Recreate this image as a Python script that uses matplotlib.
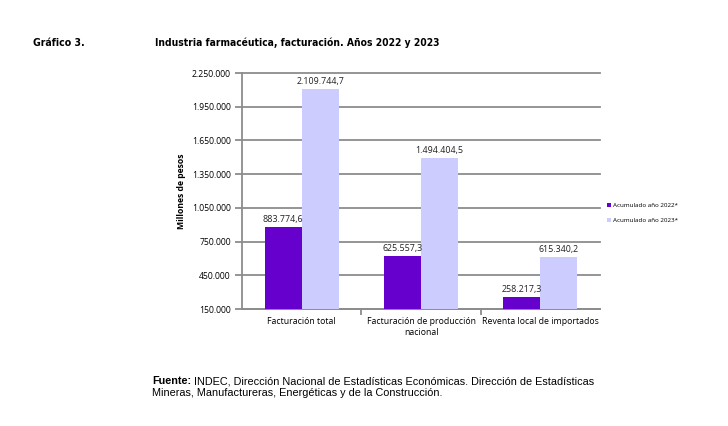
import matplotlib.pyplot as plt
import numpy as np

categories = ["Facturación total", "Facturación de producción\nnacional", "Reventa local de importados"]
values_2022 = [883774.6, 625557.3, 258217.3]
values_2023 = [2109744.7, 1494404.5, 615340.2]
series_names = ["Acumulado año 2022*", "Acumulado año 2023*"]
yticks = [150000, 450000, 750000, 1050000, 1350000, 1650000, 1950000, 2250000]


def fmt_es(v, dec=1):
    s = f"{v:,.{dec}f}"
    return s.replace(",", "X").replace(".", ",").replace("X", ".")


tick_font = ["Open Sans", "DejaVu Sans"]
grey = "#8c8c8c"

fig = plt.figure(figsize=(7.28, 4.26), dpi=100)
ax = fig.add_axes([0.3324, 0.2746, 0.4918, 0.554])

x = np.arange(len(categories))
w = 0.31
b1 = ax.bar(x - w / 2, values_2022, w, color="#6600CC", label=series_names[0], zorder=3)
b2 = ax.bar(x + w / 2, values_2023, w, color="#CCCCFF", label=series_names[1], zorder=3)

for bars, vals in [(b1, values_2022), (b2, values_2023)]:
    for r, v in zip(bars, vals):
        ax.text(r.get_x() + r.get_width() / 2, v + 25000, fmt_es(v), ha="center", va="bottom",
                fontsize=6.4, family=tick_font, color="#222222")

ax.set_xlim(-0.5, 2.5)
ax.set_ylim(150000, 2250000)
ax.set_yticks(yticks)
ax.set_yticklabels([fmt_es(t, 0) for t in yticks], fontsize=6.2, family=tick_font)
ax.yaxis.grid(True, color=grey, linewidth=1.3, zorder=0)
for gl in ax.get_ygridlines():
    gl.set_clip_on(False)
ax.tick_params(axis="y", length=5, color=grey, width=1.3, pad=3)

ax.set_xticks(x)
ax.set_xticklabels(categories, fontsize=6.3, family=tick_font)
ax.tick_params(axis="x", length=0, pad=6)
ax.set_xticks([0.5, 1.5], minor=True)
ax.tick_params(axis="x", which="minor", length=4, color=grey, width=1.3)

for s in ["top", "right"]:
    ax.spines[s].set_visible(False)
for s in ["bottom", "left"]:
    ax.spines[s].set_color(grey)
    ax.spines[s].set_linewidth(1.3)

ax.set_ylabel("Millones de pesos", fontsize=6.2, fontweight="bold", family=tick_font, labelpad=4)

leg = fig.legend(handles=[b1, b2], labels=series_names, loc="upper left", bbox_to_anchor=(0.826, 0.537),
                 frameon=False, handlelength=0.6, handleheight=0.6, handletextpad=0.3,
                 labelspacing=1.6, prop={"family": tick_font, "size": 4.5})

fig.text(33 / 728, 1 - 43 / 426, "Gráfico 3.", fontsize=7.6, fontweight="bold", family="DejaVu Sans",
         stretch="condensed", va="center")
fig.text(155 / 728, 1 - 43 / 426, "Industria farmacéutica, facturación. Años 2022 y 2023", fontsize=7.4,
         fontweight="bold", family="DejaVu Sans", stretch="condensed", va="center")

# source note: bold "Fuente:" followed by regular text on the same baseline
fuente = fig.text(152 / 728, 1 - 384 / 426, "Fuente:", fontsize=7.8, fontweight="bold",
                  family="Liberation Sans", va="baseline")
fig.canvas.draw()
bb = fuente.get_window_extent(fig.canvas.get_renderer())
fig.text(bb.x1 / fig.bbox.width, 1 - 384 / 426,
         " INDEC, Dirección Nacional de Estadísticas Económicas. Dirección de Estadísticas",
         fontsize=7.8, family="Liberation Sans", va="baseline")
fig.text(152 / 728, 1 - 396 / 426, "Mineras, Manufactureras, Energéticas y de la Construcción.",
         fontsize=7.8, family="Liberation Sans", va="baseline")

fig.savefig("out.png", dpi=100)
